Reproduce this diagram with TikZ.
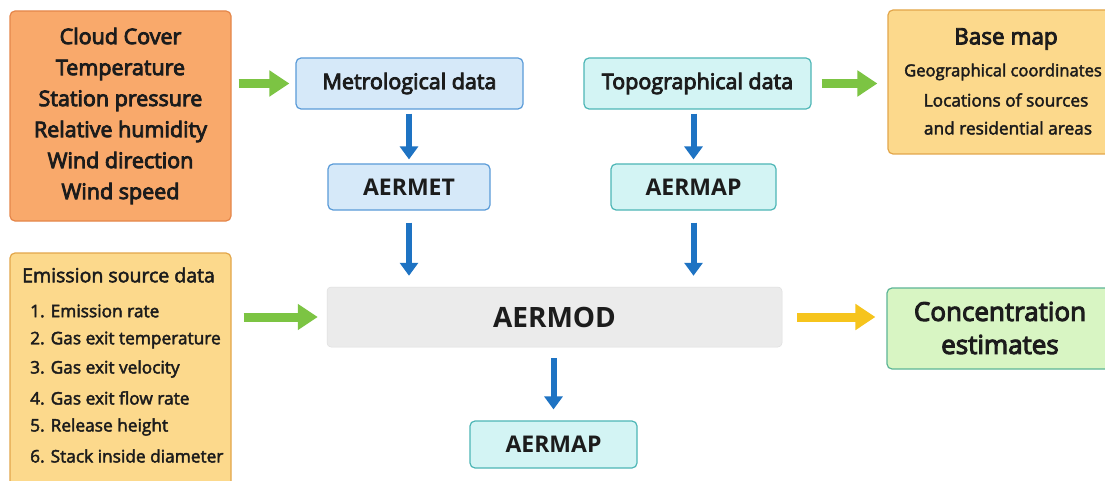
\documentclass[tikz,border=0pt]{standalone}
\usepackage{fontspec}
\setmainfont{Open Sans}
\newfontfamily\semib[FakeBold=4]{Open Sans}
\newfontfamily\medf[FakeBold=2.5]{Open Sans}
\usetikzlibrary{arrows.meta}
\definecolor{orfill}{HTML}{F9A96B}
\definecolor{ordraw}{HTML}{E5864A}
\definecolor{yefill}{HTML}{FCD98C}
\definecolor{yedraw}{HTML}{E3A64A}
\definecolor{blfill}{HTML}{D6E9F9}
\definecolor{bldraw}{HTML}{5A9BD8}
\definecolor{cyfill}{HTML}{D3F4F4}
\definecolor{cydraw}{HTML}{4DB6B6}
\definecolor{grfill}{HTML}{EBEBEB}
\definecolor{gnfill}{HTML}{D8F5C3}
\definecolor{gndraw}{HTML}{5DB596}
\definecolor{garr}{HTML}{7CC443}
\definecolor{barr}{HTML}{1E73C3}
\definecolor{yarr}{HTML}{F6C41C}
\definecolor{txt}{HTML}{1C1C1C}
\begin{document}
\begin{tikzpicture}[x=1pt,y=-1pt,
  box/.style={draw, line width=1.2pt, rounded corners=5pt, inner sep=0pt, text=txt},
  plain/.style={inner sep=0pt, text=txt},
  garrow/.style={draw=garr, line width=9pt, -{Triangle[length=20pt,width=25pt]}},
  yarrow/.style={draw=yarr, line width=9pt, -{Triangle[length=20pt,width=25pt]}},
  barrow/.style={draw=barr, line width=6pt, -{Triangle[length=13pt,width=18pt]}},
  mid/.style={font=\semib\fontsize{21.5}{24}\selectfont},
  caps/.style={font=\bfseries\fontsize{23}{26}\selectfont},
  small/.style={font=\medf\fontsize{17.3}{20}\selectfont}]
\useasboundingbox (0,0) rectangle (1105,481);
\clip (0,0) rectangle (1105,481);
\fill[white] (0,0) rectangle (1105,481);

% top-left weather box
\node[box, fill=orfill, draw=ordraw, minimum width=221pt, minimum height=210pt,
  align=center, font=\semib\fontsize{21.5}{31}\selectfont] (clouds) at (120.5,116)
  {Cloud Cover\\Temperature\\Station pressure\\Relative humidity\\Wind direction\\Wind speed};

% data boxes
\node[box, fill=blfill, draw=bldraw, minimum width=227pt, minimum height=51pt, mid] (met) at (409.5,83.5) {Metrological data};
\node[box, fill=cyfill, draw=cydraw, minimum width=227pt, minimum height=51pt, mid] (topo) at (697.5,83.5) {Topographical data};

% base map
\node[box, fill=yefill, draw=yedraw, minimum width=232pt, minimum height=144pt] (base) at (1004,82) {};
\node[plain, font=\semib\fontsize{22.5}{24}\selectfont] (bm1) at (1006,39) {Base map};
\node[plain, font=\medf\fontsize{16.6}{20}\selectfont] (bm2) at (1003,72) {Geographical coordinates};
\node[plain, small] (bm3) at (1006,100) {Locations of sources};
\node[plain, small] (bm4) at (1008,128) {and residential areas};

% AERMET / AERMAP
\node[box, fill=blfill, draw=bldraw, minimum width=162pt, minimum height=46pt, caps] (aermet) at (409,187) {AERMET};
\node[box, fill=cyfill, draw=cydraw, minimum width=165pt, minimum height=46pt, caps] (aermap1) at (693.5,187) {AERMAP};

% AERMOD
\node[box, fill=grfill, draw=grfill!95!black, line width=0.5pt, rounded corners=4pt, minimum width=455pt, minimum height=60pt,
  font=\bfseries\fontsize{28}{30}\selectfont] (aermod) at (554.5,317) {AERMOD};

% emission box
\node[box, fill=yefill, draw=yedraw, minimum width=221pt, minimum height=247pt] (emis) at (120.5,376.5) {};
\node[plain, font=\medf\fontsize{19.5}{22}\selectfont, anchor=west] (e0) at (22,275) {Emission source data};
\node[plain, small, anchor=west] (e1) at (30,311) {1. Emission rate};
\node[plain, small, anchor=west] (e2) at (30,340) {2. Gas exit temperature};
\node[plain, small, anchor=west] (e3) at (30,369) {3. Gas exit velocity};
\node[plain, small, anchor=west] (e4) at (30,398) {4. Gas exit flow rate};
\node[plain, small, anchor=west] (e5) at (30,427) {5. Release height};
\node[plain, small, anchor=west] (e6) at (30,456) {6. Stack inside diameter};

% concentration
\node[box, fill=gnfill, draw=gndraw, minimum width=233pt, minimum height=81pt] (conc) at (1003.5,328.5) {};
\node[plain, align=center, font=\semib\fontsize{26}{33}\selectfont] (conctxt) at (1000,328) {Concentration\\estimates};

% bottom AERMAP
\node[box, fill=cyfill, draw=cydraw, minimum width=167pt, minimum height=47pt, caps] (aermap2) at (553.5,444.5) {AERMAP};

% arrows
\draw[garrow, shorten <=7pt, shorten >=6pt] (clouds.east |- met.west) -- (met.west);
\draw[garrow, shorten <=10pt, shorten >=10pt] (topo.east) -- (topo.east -| base.west);
\draw[garrow, shorten <=12pt, shorten >=9pt] (emis.east |- aermod.west) -- (aermod.west);
\draw[yarrow, shorten <=15pt, shorten >=11pt] (aermod.east) -- (aermod.east -| conc.west);

\draw[barrow, shorten <=4pt, shorten >=4pt] (met.south -| aermet.north) -- (aermet.north);
\draw[barrow, shorten <=4pt, shorten >=4pt] (aermap1.north |- topo.south) -- (aermap1.north);
\draw[barrow, shorten <=12pt, shorten >=11pt] (aermet.south) -- (aermet.south |- aermod.north);
\draw[barrow, shorten <=12pt, shorten >=11pt] (aermap1.south) -- (aermap1.south |- aermod.north);
\draw[barrow, shorten <=11pt, shorten >=11pt] (aermod.south -| aermap2.north) -- (aermap2.north);
\end{tikzpicture}
\end{document}
